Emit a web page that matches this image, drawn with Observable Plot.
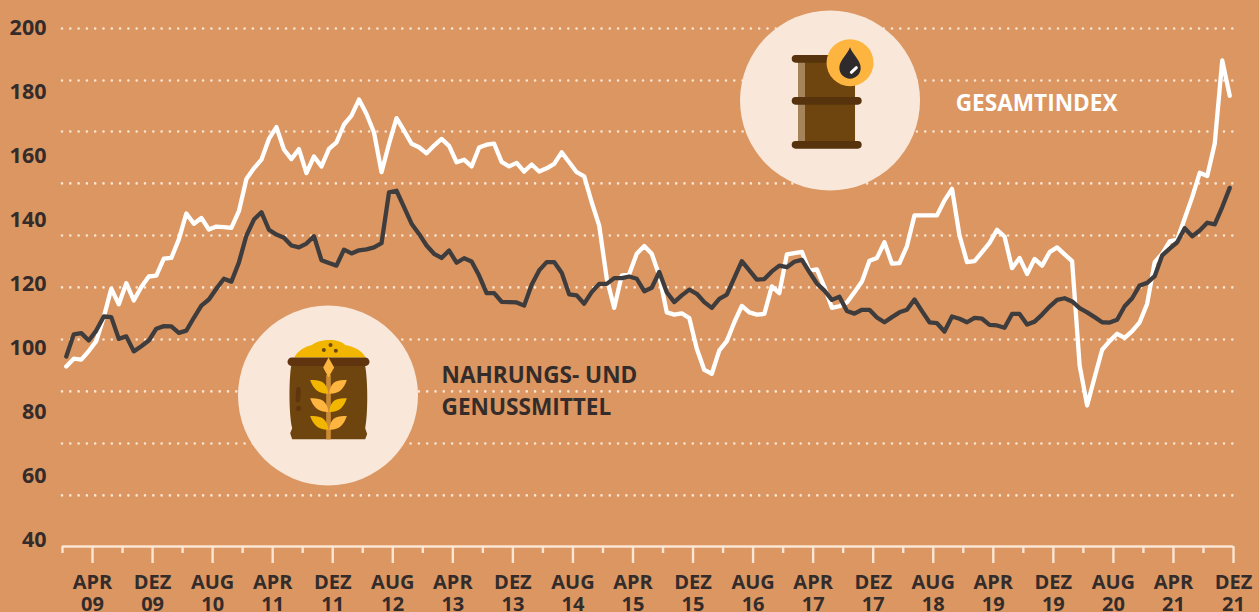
<!DOCTYPE html>
<html lang="de">
<head>
<meta charset="utf-8">
<title>Rohstoffpreisindex</title>
<script src="https://cdn.jsdelivr.net/npm/d3@7"></script>
<script src="https://cdn.jsdelivr.net/npm/@observablehq/plot@0.6"></script>
<style>
  html, body { margin: 0; padding: 0; background: #db9661; overflow: hidden; }
  svg { display: block; }
</style>
</head>
<body>
<div id="chart"></div>
<script>
// monthly index, Jan 2009 .. Dez 2021
const gesamtindex = [
  94.4,96.8,96.5,99.2,102.3,109.8,118.7,113.8,120.4,115,119.2,122.5,
  122.8,128.1,128.3,134.1,142.2,139,140.8,137.2,138.1,137.9,137.7,142.9,
  153,156.3,159,165.5,169.2,162.2,159.2,162.3,154.8,160,156.9,162.4,
  164.4,170,172.8,177.8,173.3,167.5,155.1,164,172,168.1,164,162.9,
  161,163.4,165.5,163.3,158.2,159,156.9,162.8,163.7,164,158.3,156.9,
  158,155.3,157.5,155.3,156.3,157.7,161.3,158.2,155.1,153.8,145.7,138.4,
  121.9,112.7,122.8,123.3,129.6,132,129.6,122.8,111.3,110.6,111,109.5,
  99.9,93.3,92.1,99.4,102.3,108.2,113.3,111.3,110.6,110.8,119.4,117.3,
  129.4,129.8,130.2,124.3,124.7,119.2,112.7,113.2,114.4,117.6,120.9,127.4,
  128.3,133.2,126.5,126.7,132,141.6,141.6,141.6,141.6,146.3,149.9,135.3,
  127,127.3,130.1,133,137.1,135,125.1,128.3,123.3,128,125.9,130.1,
  131.6,129.4,127.3,94.7,82.2,91,99.6,102.3,104.6,103.3,105.4,108.2,
  114,127,129.6,133.5,134,140.6,147.3,154.9,153.9,164,190,179
];
const nahrungsmittel = [
  97.5,104.4,104.8,102.5,105.6,110,109.8,103,103.8,99.1,100.7,102.5,
  106.2,107,106.9,104.9,105.6,109.6,113.4,115.3,118.7,121.8,120.9,126.9,
  135.3,140.3,142.6,137.1,135.6,134.6,132.2,131.6,132.8,135.1,127.6,126.7,
  125.9,130.9,129.7,130.7,131,131.6,132.9,148.8,149.3,144.2,139,135.8,
  132.2,129.6,128.3,130.6,126.8,128.2,127.2,122.8,117.3,117.3,114.6,114.5,
  114.4,113.4,119.9,124.4,127,127,123.7,116.9,116.6,114,117.6,120.2,
  120.2,122,122,122.5,121.8,117.9,119,123.9,117.6,114.5,116.6,118.4,
  117.1,114.5,112.7,115.5,116.8,122.1,127.3,124.4,121.5,121.7,124.1,125.9,
  125.4,127.1,127.7,123.9,120.3,118.1,115.2,116.2,111.7,110.9,112.1,112.1,
  109.7,108.2,109.8,111.3,112.1,115.3,111.7,108.2,107.9,105.3,110,109.3,
  108.2,109.6,109.3,107.4,107.2,106.5,110.8,110.8,107.5,108.4,110.6,113.1,
  115.2,115.7,114.7,112.6,111.3,109.8,108.2,108.1,109,113.2,115.7,119.7,
  120.5,122.6,129.1,131.2,133.2,137.6,135.1,136.9,139.3,138.8,144.2,150.2
];

const yTicks = [200,180,160,140,120,100,80,60,40];
const gridValues = [200,183.75,167.8,151.6,135.3,119.1,102.8,86.6,70.3,54.1];
const axisBase = 38.125;

const majorMonths = [4,12,20,28,36,44,52,60,68,76,84,92,100,108,116,124,132,140,148,156];
const minorMonths = [0,8,16,24,32,40,48,56,64,72,80,88,96,104,112,120,128,136,144,152];
const majorLabels = ["APR\n09","DEZ\n09","AUG\n10","APR\n11","DEZ\n11","AUG\n12","APR\n13","DEZ\n13","AUG\n14","APR\n15","DEZ\n15","AUG\n16","APR\n17","DEZ\n17","AUG\n18","APR\n19","DEZ\n19","AUG\n20","APR\n21","DEZ\n21"];

const labelWhite = [{m:119.0, v:176.6, t:"GESAMTINDEX"}];
const labelDark = [{m:50.5, v:91.4, t:"NAHRUNGS- UND"},{m:50.5, v:81.4, t:"GENUSSMITTEL"}];
const badges = [{m:102.25, v:177.5, id:"oil"},{m:35.37, v:85.3, id:"food"}];

const BG = "#db9661", CREAM = "#fbe5d3", INK = "#332c2b", DISC = "#f9e7da";
const FONT = "'Open Sans', sans-serif";

const icons = {
  // barrel, drawn around the disc centre in 1/3 px
  oil: `<g transform="scale(0.3333) translate(-268.5,-300)">
    <rect x="174" y="176" width="171" height="259" fill="#6e450e"/>
    <rect x="174" y="176" width="21" height="259" fill="#a5845c"/>
    <rect x="155" y="165" width="210" height="23" rx="11.5" fill="#56330c"/>
    <rect x="155" y="291" width="210" height="23" rx="11.5" fill="#56330c"/>
    <rect x="155" y="423" width="210" height="23" rx="11.5" fill="#56330c"/>
    <circle cx="330" cy="188" r="70.5" fill="#fdb53f"/>
    <path d="M330,142 C322,165 298,180 298,204 A32,32 0 0 0 362,204 C362,180 338,165 330,142 Z" fill="#2f2a2c"/>
    <path d="M334,217 L349,203" stroke="#fff" stroke-width="9" stroke-linecap="round"/>
  </g>`,
  food: `<g transform="scale(0.3333) translate(-292,-285)">
    <path d="M192,172 C205,150 225,140 245,135 C265,118 325,112 345,135 C370,140 395,150 406,172 Z" fill="#f2b600"/>
    <circle cx="301" cy="135" r="6" fill="#6e450e"/><circle cx="281" cy="150" r="6" fill="#6e450e"/><circle cx="317" cy="152" r="6" fill="#6e450e"/>
    <path d="M183,198 L405,198 C413,240 414,340 405,385 L411,402 L405,418 L186,418 L180,400 L186,385 C176,340 176,240 183,198 Z" fill="#6e450e"/>
    <rect x="172" y="172" width="246" height="26" rx="13" fill="#5f340e"/>
    <path d="M205,268 L203,300" stroke="#5f340e" stroke-width="14" stroke-linecap="round"/>
    <circle cx="205" cy="325" r="8" fill="#5f340e"/>
    <rect x="288" y="225" width="14" height="193" fill="#cb8a34"/>
    <path d="M295,172 L312,202 L295,232 L279,202 Z" fill="#fdb53f"/>
    <g id="row"><path d="M240,240 C270,238 290,245 295,281 C265,282 250,268 240,240 Z" fill="#f2b600"/><path d="M350,240 C320,238 300,245 297,281 C327,282 340,268 350,240 Z" fill="#fdb53f"/></g>
    <g transform="translate(0,55)"><path d="M240,240 C270,238 290,245 295,281 C265,282 250,268 240,240 Z" fill="#fdb53f"/><path d="M350,240 C320,238 300,245 297,281 C327,282 340,268 350,240 Z" fill="#f2b600"/></g>
    <g transform="translate(0,108)"><path d="M240,240 C270,238 290,245 295,281 C265,282 250,268 240,240 Z" fill="#f2b600"/><path d="M350,240 C320,238 300,245 297,281 C327,282 340,268 350,240 Z" fill="#fdb53f"/></g>
  </g>`
};

function iconMark(index, {x, y}) {
  const g = d3.create("svg:g");
  for (const b of badges) {
    g.append("g")
      .attr("transform", `translate(${x(b.m)},${y(b.v)})`)
      .html(icons[b.id]);
  }
  return g.node();
}

const chart = Plot.plot({
  width: 1259,
  height: 612,
  marginTop: 28,
  marginBottom: 66,
  marginLeft: 62,
  marginRight: 26,
  style: {background: BG, fontFamily: FONT, color: INK},
  x: {type: "linear", domain: [0, 156]},
  y: {domain: [axisBase, 200]},
  marks: [
    Plot.ruleY(gridValues, {stroke: CREAM, strokeWidth: 2.6, strokeDasharray: "0 8.3", strokeLinecap: "round"}),
    Plot.dot(badges, {x: "m", y: "v", r: 90, fill: DISC, stroke: null}),
    iconMark,
    Plot.ruleY([axisBase], {stroke: CREAM, strokeWidth: 2.4}),
    Plot.axisX({ticks: minorMonths, tickSize: 7, text: null, label: null, stroke: CREAM, strokeWidth: 2.4}),
    Plot.axisX({
      ticks: majorMonths, tickSize: 17, tickPadding: 10, label: null,
      tickFormat: (m) => majorLabels[majorMonths.indexOf(m)],
      stroke: CREAM, strokeWidth: 2.4, fill: INK,
      fontSize: 20, fontWeight: 700, lineHeight: 1.1
    }),
    Plot.axisY({
      ticks: yTicks, tickSize: 0, tickPadding: 16, label: null,
      tickFormat: (d) => String(d),
      fill: INK, fontSize: 21.5, fontWeight: 700
    }),
    Plot.line(gesamtindex, {x: (d, i) => i + 0.5, y: (d) => d, stroke: "#ffffff", strokeWidth: 4.3}),
    Plot.line(nahrungsmittel, {x: (d, i) => i + 0.5, y: (d) => d, stroke: "#3f3c3d", strokeWidth: 4.3}),
    Plot.text(labelWhite, {x: "m", y: "v", text: "t", textAnchor: "start", fill: "#ffffff", fontSize: 22.6, fontWeight: 700}),
    Plot.text(labelDark, {x: "m", y: "v", text: "t", textAnchor: "start", fill: INK, fontSize: 22.6, fontWeight: 700})
  ]
});
document.getElementById("chart").appendChild(chart);
</script>
</body>
</html>
